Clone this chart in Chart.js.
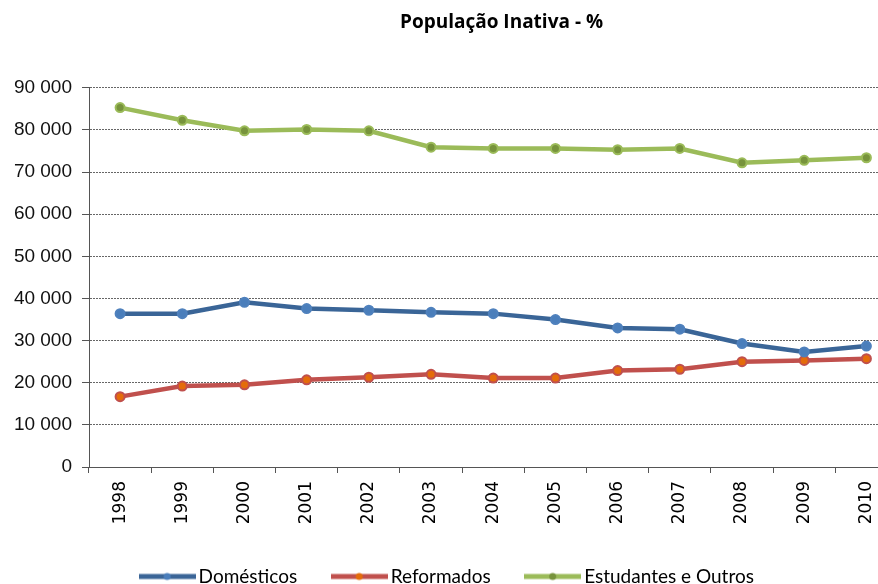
<!DOCTYPE html>
<html>
<head>
<meta charset="utf-8">
<title>População Inativa</title>
<script src="https://cdn.jsdelivr.net/npm/chart.js@4"></script>
<style>
  html, body { margin: 0; padding: 0; background: #fff; overflow: hidden; }
  #wrap { width: 904px; height: 596px; }
</style>
</head>
<body>
<div id="wrap"><canvas id="mainChart" width="904" height="596"></canvas></div>
<script>
// Years on the category axis
const years = ['1998', '1999', '2000', '2001', '2002', '2003', '2004', '2005', '2006', '2007', '2008', '2009', '2010'];

// Series values
const domesticos = [36400, 36400, 39100, 37600, 37200, 36700, 36400, 35000, 33000, 32700, 29300, 27300, 28700];
const reformados = [16700, 19200, 19500, 20700, 21300, 22000, 21100, 21100, 22900, 23200, 25000, 25300, 25700];
const estudantes = [85300, 82300, 79800, 80100, 79800, 75900, 75600, 75600, 75300, 75600, 72200, 72800, 73400];

// Y axis ticks
const yTicks = [0, 10000, 20000, 30000, 40000, 50000, 60000, 70000, 80000, 90000];

const seriesStyle = [
    { label: 'Domésticos', data: domesticos, line: '#3A6597', dot: '#4A7EBB', ring: '#4F81BD' },
    { label: 'Reformados', data: reformados, line: '#C0504D', dot: '#E46C0A', ring: '#C0504D' },
    { label: 'Estudantes e Outros', data: estudantes, line: '#9BBB59', dot: '#77933C', ring: '#9BBB59' }
];

const legendFont = 19;
const legendBox = 44;

// small "line with a dot" swatch for the legend
function makeSwatch(s) {
    const c = document.createElement('canvas');
    c.width = legendBox + legendFont - 6;
    c.height = 12;
    const g = c.getContext('2d');
    g.strokeStyle = s.line;
    g.lineWidth = 5;
    g.beginPath();
    g.moveTo(0, 6);
    g.lineTo(c.width, 6);
    g.stroke();
    g.fillStyle = s.dot;
    g.beginPath();
    g.arc(c.width / 2, 6, 3.5, 0, Math.PI * 2);
    g.fill();
    return c;
}

function spaced(v) {
    return String(v).replace(/\B(?=(\d{3})+(?!\d))/g, ' ');
}

// nudges the title sideways after layout
const shiftTitle = {
    id: 'shiftTitle',
    afterLayout(chart) {
        const t = chart.titleBlock;
        if (t) { t.left += 52; t.right += 52; }
    }
};

const datasets = seriesStyle.map(s => ({
    label: s.label,
    data: s.data,
    borderColor: s.line,
    backgroundColor: s.line,
    borderWidth: 4.5,
    pointRadius: 4.5,
    pointBorderWidth: 2,
    pointBackgroundColor: s.dot,
    pointBorderColor: s.ring,
    tension: 0,
    swatch: makeSwatch(s)
}));

const ctx = document.getElementById('mainChart').getContext('2d');
new Chart(ctx, {
    type: 'line',
    data: { labels: years, datasets: datasets },
    options: {
        responsive: false,
        animation: false,
        devicePixelRatio: 1,
        layout: { padding: { left: 0, right: 5, top: 0, bottom: 0 } },
        plugins: {
            title: {
                display: true,
                text: 'População Inativa - %',
                color: '#000',
                font: { family: 'Open Sans', size: 19, weight: 'bold', lineHeight: 1.2 },
                padding: { top: 11, bottom: 54 }
            },
            legend: {
                position: 'bottom',
                labels: {
                    usePointStyle: true,
                    pointStyleWidth: legendBox,
                    padding: 40,
                    color: '#000',
                    font: { family: 'Lato', size: legendFont },
                    generateLabels(chart) {
                        return chart.data.datasets.map((ds, i) => ({
                            text: ds.label,
                            pointStyle: ds.swatch,
                            fillStyle: ds.borderColor,
                            strokeStyle: ds.borderColor,
                            lineWidth: 0,
                            fontColor: '#000',
                            hidden: false,
                            datasetIndex: i
                        }));
                    }
                }
            },
            tooltip: { enabled: false }
        },
        scales: {
            x: {
                offset: true,
                border: { display: true, color: '#555', width: 1 },
                grid: { offset: true, drawOnChartArea: false, drawTicks: true, tickLength: 6, tickColor: '#555' },
                ticks: {
                    autoSkip: false,
                    minRotation: 90,
                    maxRotation: 90,
                    padding: 8,
                    color: '#000',
                    font: { family: 'DejaVu Sans', size: 17 }
                },
                afterFit(scale) { scale.height = 60; }
            },
            y: {
                min: 0,
                max: 90000,
                afterBuildTicks(scale) { scale.ticks = yTicks.map(v => ({ value: v })); },
                // dotted horizontal gridlines
                border: { display: true, color: '#555', width: 1, dash: [2, 1] },
                grid: {
                    color: '#666',
                    lineWidth: 1,
                    tickLength: 7,
                    tickColor: '#555',
                    tickBorderDash: []
                },
                ticks: {
                    padding: 10,
                    color: '#111',
                    font: { family: 'Liberation Sans', size: 19 },
                    callback: v => spaced(v)
                },
                afterFit(scale) { scale.width = 89; }
            }
        }
    },
    plugins: [shiftTitle]
});
</script>
</body>
</html>
